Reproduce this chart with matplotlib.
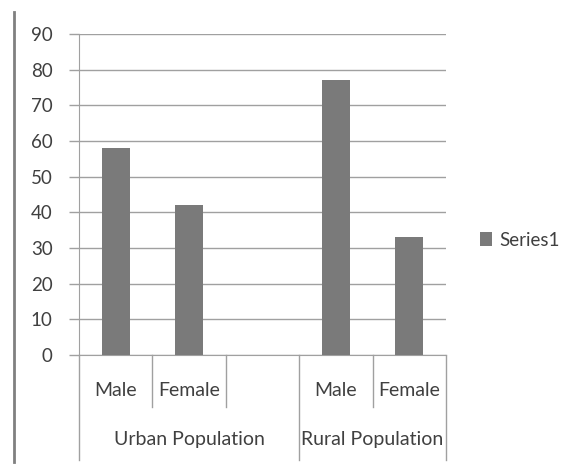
import numpy as np
import matplotlib
matplotlib.use('Agg')
import matplotlib.pyplot as plt
from matplotlib.lines import Line2D
import matplotlib.transforms as mtransforms

# data
sub_labels = ['Male', 'Female', '', 'Male', 'Female']
group_labels = ['Urban Population', 'Rural Population']
group_sizes = [3, 2]
values = [58, 42, np.nan, 77, 33]
series_name = 'Series1'
y_ticks = [0, 10, 20, 30, 40, 50, 60, 70, 80, 90]

plt.rcParams['font.family'] = ['Lato', 'DejaVu Sans']

text_col = '#404040'
grid_col = '#a0a0a0'
bar_col = '#7a7a7a'

fig = plt.figure(figsize=(5.75, 4.66), dpi=100)
ax = fig.add_axes([79 / 575, 1 - 355 / 466, 367 / 575, 321 / 466])

x = np.arange(len(values))
bars = ax.bar(x, np.nan_to_num(values), width=0.38, color=bar_col, label=series_name, zorder=3)

ax.set_xlim(-0.5, len(values) - 0.5)
ax.set_ylim(0, 90)
ax.set_yticks(y_ticks)
ax.set_yticklabels([str(t) for t in y_ticks], fontsize=13.5, color=text_col)
ax.tick_params(axis='y', direction='out', length=7, width=1, color=grid_col, pad=12)
ax.set_xticks([])
ax.yaxis.grid(True, color=grid_col, linewidth=1)
ax.set_axisbelow(True)

for s in ['top', 'right']:
    ax.spines[s].set_visible(False)
ax.spines['left'].set_color(grid_col)
ax.spines['bottom'].set_color(grid_col)

# multi-level category axis
trans = mtransforms.blended_transform_factory(ax.transData, ax.transAxes)
short_y = -52 / 321
long_y = -105 / 321

for i, lab in enumerate(sub_labels):
    if lab:
        ax.text(i, -35 / 321, lab, transform=trans, ha='center', va='center',
                fontsize=14, color=text_col)

start = 0
for g, n in zip(group_labels, group_sizes):
    left = start - 0.5
    right = start + n - 0.5
    ax.text((left + right) / 2, -85 / 321, g, transform=trans, ha='center', va='center',
            fontsize=14, color=text_col)
    for k in range(1, n):
        ax.add_line(Line2D([left + k, left + k], [0, short_y], transform=trans,
                           color=grid_col, lw=1, clip_on=False))
    ax.add_line(Line2D([left, left], [0, long_y], transform=trans,
                       color=grid_col, lw=1, clip_on=False))
    start += n
ax.add_line(Line2D([start - 0.5, start - 0.5], [0, long_y], transform=trans,
                   color=grid_col, lw=1, clip_on=False))

# legend
ax.legend(handles=[bars], loc='center left', bbox_to_anchor=(480 / 575, 1 - 240 / 466),
          bbox_transform=fig.transFigure, frameon=False, fontsize=13.5,
          handlelength=0.65, handleheight=0.75, handletextpad=0.4, borderpad=0,
          borderaxespad=0, labelcolor=text_col)

# page border line on the left
fig.add_artist(Line2D([14 / 575, 14 / 575], [1 - 12 / 466, 1 - 462 / 466],
                      color='#808080', lw=2))

fig.savefig('out.png', dpi=100)
